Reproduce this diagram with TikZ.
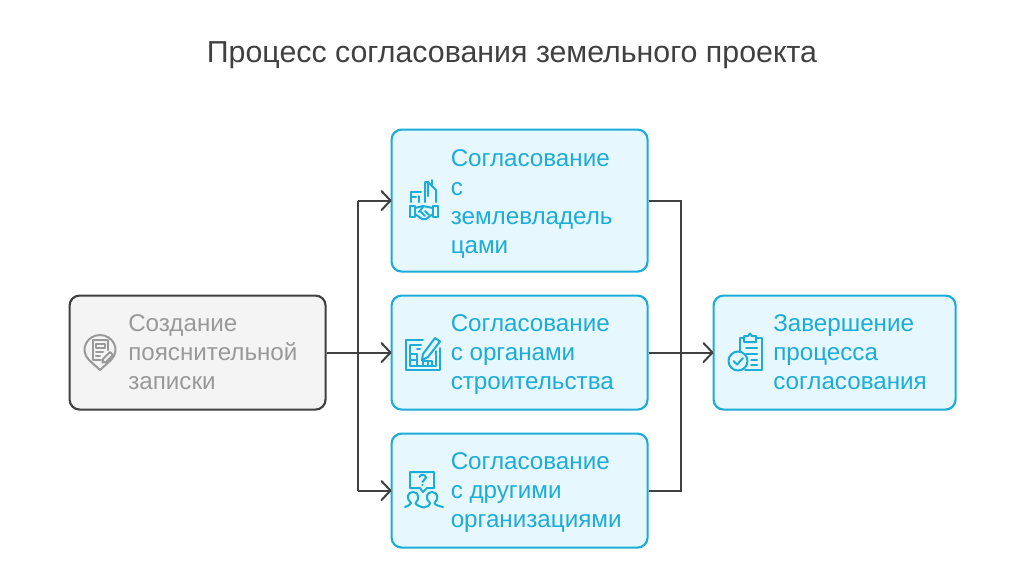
\documentclass[tikz,border=0pt]{standalone}
\usepackage{fontspec}
\setmainfont{Liberation Sans}
\usetikzlibrary{calc}
\definecolor{cblue}{HTML}{1CACD8}
\definecolor{cfill}{HTML}{E6F7FD}
\definecolor{cgray}{HTML}{404040}
\definecolor{cgfill}{HTML}{F4F4F4}
\definecolor{cgtext}{HTML}{999999}
\tikzset{
 x=0.75pt,y=-0.75pt,
 bluebox/.style={draw=cblue,fill=cfill,line width=1.6pt,rounded corners=7.5pt,inner sep=0pt,anchor=north west},
 graybox/.style={draw=cgray,fill=cgfill,line width=1.6pt,rounded corners=7.5pt,inner sep=0pt,anchor=north west},
 lbl/.style={anchor=west,align=left,inner sep=0pt,font=\fontsize{18.15}{21.75}\selectfont},
 conn/.style={draw=cgray,line width=1.5pt},
 tip/.style={draw=cgray,line width=1.5pt,line cap=round,line join=round},
 ico/.style={draw=cblue,line width=1.5pt,line cap=round,line join=round},
 icog/.style={draw=cgtext,line width=1.5pt,line cap=round,line join=round},
}
\begin{document}
\begin{tikzpicture}
\useasboundingbox (0,0) rectangle (1024,576);
\fill[white] (0,0) rectangle (1024,576);
\node[inner sep=0pt,text=cgray,font=\fontsize{22.75}{26}\selectfont] (title) at (512,55.5) {Процесс согласования земельного проекта};

\node[graybox,minimum width=192pt,minimum height=85.5pt] (src) at (68.5,294.5) {};
\node[bluebox,minimum width=192pt,minimum height=106.5pt] (top) at (390.5,128.5) {};
\node[bluebox,minimum width=192pt,minimum height=85.5pt] (mid) at (390.5,294.5) {};
\node[bluebox,minimum width=192pt,minimum height=85.5pt] (bot) at (390.5,432.5) {};
\node[bluebox,minimum width=181.5pt,minimum height=85.5pt] (end) at (712.5,294.5) {};

\node[lbl,text=cgtext] (tsrc) at (128,352) {Создание\\пояснительной\\записки};
\node[lbl,text=cblue] (ttop) at (450.5,204) {Согласование\\с\\землевладель\\цами};
\node[lbl,text=cblue] (tmid) at (450.5,355) {Согласование\\с органами\\строительства};
\node[lbl,text=cblue] (tbot) at (450.5,493) {Согласование\\с другими\\организациями};
\node[lbl,text=cblue] (tend) at (773,352) {Завершение\\процесса\\согласования};

% connectors
\coordinate (jl) at (358,352);
\coordinate (jr) at (681,352);
\draw[conn] (src.east) -- (mid.west);
\draw[conn] (jl |- top.west) -- (jl |- bot.west);
\draw[conn] (jl |- top.west) -- (top.west);
\draw[conn] (jl |- bot.west) -- (bot.west);
\draw[conn] (top.east) -- (jr |- top.east) -- (jr |- bot.east) -- (bot.east);
\draw[conn] (mid.east) -- (end.west);
\foreach \n in {top,mid,bot,end}{
 \draw[tip] ($(\n.west)+(-9,-9.5)$) -- ($(\n.west)+(0,0)$) -- ($(\n.west)+(-9,9.5)$);
}

% icon: handshake + buildings
\begin{scope}[shift={(392,170)},ico]
 \draw (19,32) -- (19,22) -- (29,22) (19,27) -- (24,27);
 \draw (27,32) -- (27,26) (33,22) -- (33,32);
 \draw (33,22) -- (33,12) -- (36,12) -- (44,20) -- (44,32);
 \draw (36,12) -- (36,26) (40,10) -- (40,16);
 \draw (18,36) -- (18,47) -- (23,47) -- (23,36) -- cycle;
 \draw (41,36) -- (41,47) -- (46,47) -- (46,36) -- cycle;
 \draw (23,38) -- (31,36) -- (41,38) (23,44) -- (30,49) -- (34,49) -- (41,44);
 \draw (27,42) -- (31,37) (29,42) -- (33,46) (33,41) -- (37,45);
\end{scope}

% icon: plan + pencil
\begin{scope}[shift={(390,325)},ico]
 \draw (33,15) -- (16,15) -- (16,45) -- (50,45) -- (50,23);
 \draw (20,20) -- (31,20) (20,20) -- (20,41) -- (46,41) -- (46,26);
 \draw (33,29) -- (45,13) -- (50,16.5) -- (38,32) -- (32,35) -- cycle;
 \draw (20,29) -- (27,29) -- (27,41) (20,35) -- (27,35);
 \draw (27,24) -- (30,24) (33,41) -- (33,36) -- (42,36) -- (42,41) (37.5,36) -- (37.5,41);
\end{scope}

% icon: people + question
\begin{scope}[shift={(395,465)},ico]
 \draw (15,7) -- (39,7) -- (39,23) -- (32,23) -- (28,27) -- (25,23) -- (15,23) -- cycle;
 \draw (24.5,12) .. controls (24.5,9) and (31,9) .. (31,12.5) .. controls (31,15) and (27.5,14.5) .. (27.5,17);
 \fill[cblue,draw=none] (27.5,20) circle (1.1);
 \draw (10,42) .. controls (13,40.5) and (16,40) .. (16,38) .. controls (11,34) and (12,27) .. (18,27) .. controls (24,27) and (25,34) .. (20.5,38) .. controls (20.5,40) and (26,42) .. (29,42.5) .. controls (32,42) and (35,40) .. (35,38) .. controls (30,34) and (31,27) .. (37,27) .. controls (43,27) and (44,34) .. (39.5,38) .. controls (39.5,40) and (44,41) .. (48,42);
\end{scope}

% icon: pin + note
\begin{scope}[shift={(75,325)},icog]
 \draw (25,45) -- (14,35) .. controls (4,25) and (12,10) .. (25,10) .. controls (38,10) and (46,25) .. (36,35) -- cycle;
 \draw (33,25) -- (33,15) -- (18,15) -- (18,35) -- (26,35);
 \draw (21,19) -- (30,19) -- (30,23) -- (21,23) -- cycle (21,27) -- (28,27) (21,31) -- (25,31);
 \draw (28,34) -- (35,27) -- (38,30) -- (31,37) -- (27.5,37.5) -- cycle;
\end{scope}

% icon: clipboard + check
\begin{scope}[shift={(720,325)},ico]
 \draw (24,13) -- (20,13) -- (20,27);
 \draw (36,13) -- (42,13) -- (42,45) -- (25,45);
 \draw (24,11) -- (24,17) -- (36,17) -- (36,11) -- (32,11) -- (30,8.5) -- (28,11) -- cycle;
 \draw (26,23) -- (37,23) (26,29) -- (37,29) (31,35) -- (37,35) (31,40) -- (37,40);
 \draw (18,36) circle (9.5);
 \draw (13.5,36) -- (17,39.5) -- (23,33);
\end{scope}
\end{tikzpicture}
\end{document}
